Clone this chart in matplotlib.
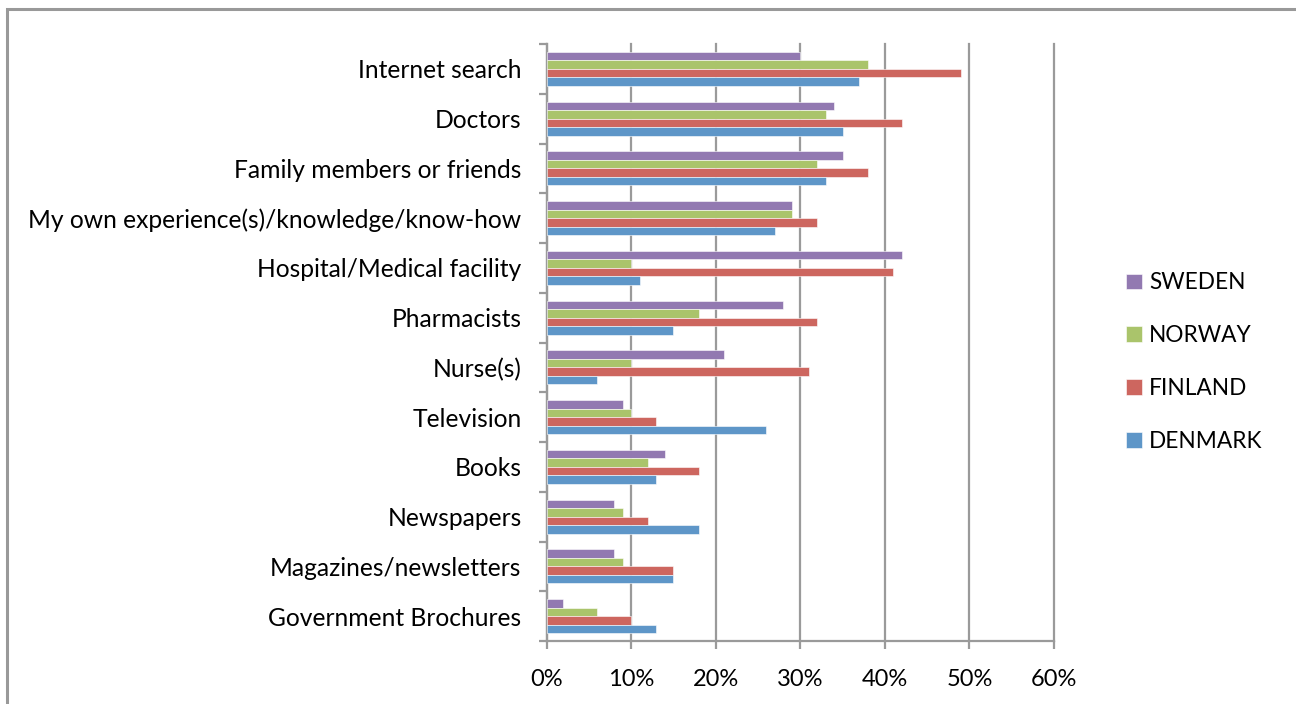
import numpy as np
import matplotlib.pyplot as plt
from matplotlib.patches import Rectangle
from matplotlib.ticker import PercentFormatter

# Sources of health information, share of respondents (%)
categories = [
    "Internet search",
    "Doctors",
    "Family members or friends",
    "My own experience(s)/knowledge/know-how",
    "Hospital/Medical facility",
    "Pharmacists",
    "Nurse(s)",
    "Television",
    "Books",
    "Newspapers",
    "Magazines/newsletters",
    "Government Brochures",
]
sweden = [30, 34, 35, 29, 42, 28, 21, 9, 14, 8, 8, 2]
norway = [38, 33, 32, 29, 10, 18, 10, 10, 12, 9, 9, 6]
finland = [49, 42, 38, 32, 41, 32, 31, 13, 18, 12, 15, 10]
denmark = [37, 35, 33, 27, 11, 15, 6, 26, 13, 18, 15, 13]

series = [
    ("SWEDEN", sweden, "#9279b1"),
    ("NORWAY", norway, "#aac46b"),
    ("FINLAND", finland, "#cd665f"),
    ("DENMARK", denmark, "#5e96c8"),
]

plt.rcParams["font.family"] = ["Lato", "DejaVu Sans"]

W, H = 1296, 704
fig = plt.figure(figsize=(W / 100, H / 100), dpi=100)

# outer chart border (left and top edges fall inside the image)
fig.patches.append(Rectangle((7 / W, -0.05), 1.1, (H - 9) / H + 0.05,
                             transform=fig.transFigure, fill=False,
                             edgecolor="#999999", linewidth=2.2))

ax = fig.add_axes([546.5 / W, (H - 641) / H, (1054 - 546.5) / W, (641 - 44) / H])

grid_c = "#9a9a9a"
y = np.arange(len(categories))
h = 0.17
for k, (name, vals, col) in enumerate(series):
    ax.barh(y - 1.5 * h + k * h, vals, height=h, color=col,
            edgecolor="white", linewidth=0.4, label=name, zorder=3)

ax.set_xlim(0, 60)
ax.set_ylim(len(categories) - 0.5, -0.5)
ax.set_xticks(np.arange(0, 61, 10))
ax.xaxis.set_major_formatter(PercentFormatter(decimals=0))
ax.set_yticks(y)
ax.set_yticklabels(categories)
ax.set_yticks(np.arange(-0.5, len(categories)), minor=True)

ax.grid(axis="x", color=grid_c, linewidth=1.6, zorder=0)
for line in ax.get_xgridlines():
    line.set_clip_on(False)
for s in ["top", "right"]:
    ax.spines[s].set_visible(False)
for s in ["left", "bottom"]:
    ax.spines[s].set_color(grid_c)
    ax.spines[s].set_linewidth(1.6)

ax.tick_params(axis="y", which="major", length=0, pad=18, labelsize=17.7)
ax.tick_params(axis="y", which="minor", length=6, width=1.6, color=grid_c)
ax.tick_params(axis="x", length=6, width=1.6, color=grid_c, pad=14, labelsize=17)

leg = fig.legend(loc="center left", bbox_to_anchor=(1106 / W, (H - 362) / H),
                 frameon=False, fontsize=16.3, handlelength=0.7, handleheight=0.7,
                 handletextpad=0.3, labelspacing=1.4)

fig.savefig("out.png", dpi=100)
